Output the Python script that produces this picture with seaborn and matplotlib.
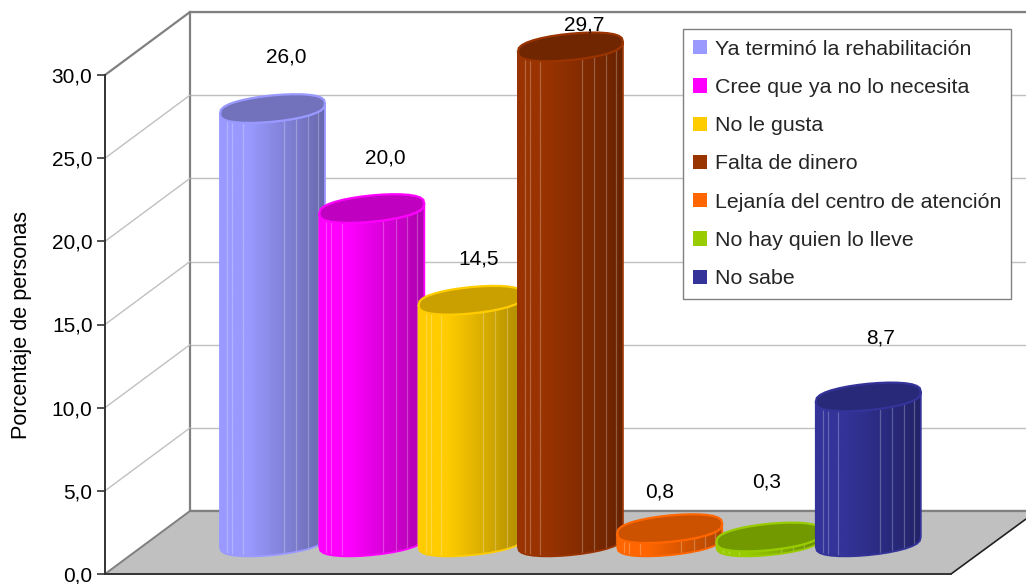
import numpy as np
import pandas as pd
import matplotlib.pyplot as plt
import seaborn as sns
from matplotlib.patches import Polygon, Patch
from matplotlib.ticker import FuncFormatter

# -----------------------------
# DATA
# -----------------------------
motivos = [
    "Ya terminó la rehabilitación",
    "Cree que ya no lo necesita",
    "No le gusta",
    "Falta de dinero",
    "Lejanía del centro de atención",
    "No hay quien lo lleve",
    "No sabe",
]
porcentajes = [26.0, 20.0, 14.5, 29.7, 0.8, 0.3, 8.7]
colores = ["#9999FF", "#FF00FF", "#FFCC00", "#993300", "#FF6600", "#99CC00", "#333399"]
colores_tapa = ["#7272BC", "#C000C0", "#C9A000", "#702600", "#CC5200", "#739900", "#29297A"]
ticks_y = [0, 5, 10, 15, 20, 25, 30]

# label offsets from the top of each bar, in pixels
label_dx = [14, 14, 8, 14, -10, -2, 12]
label_dy = [52, 51, 41, 22, 37, 55, 59]

# -----------------------------
# LAYOUT (pixels of the 1026x584 picture)
# -----------------------------
W, H = 1026, 584
FRONT_X, FRONT_Y0, FRONT_Y30 = 105, 574, 75
BACK_X, BACK_Y0, BACK_Y30 = 190, 511, 12
RIGHT_FRONT = 951
BAR_Y0 = 542
PX_Y = 16.67
BAR_X0, BAR_STEP = 272.5, 99.3


def box(x0, y_bottom, x1, y_top):
    return [x0 / W, 1 - y_bottom / H, (x1 - x0) / W, (y_bottom - y_top) / H]


sns.set_style("white")
plt.rcParams["font.family"] = ["Liberation Sans", "DejaVu Sans"]
FS = 15

fig = plt.figure(figsize=(W / 100, H / 100), dpi=100)

# -----------------------------
# BACK WALL
# -----------------------------
ax_wall = fig.add_axes(box(BACK_X, BACK_Y0, W, BACK_Y30), zorder=0)
ax_wall.set_xlim(0, 1)
ax_wall.set_ylim(0, 30)
ax_wall.set_yticks(ticks_y)
ax_wall.set_xticks([])
ax_wall.tick_params(left=False, labelleft=False)
ax_wall.grid(axis="y", color="#C0C0C0", lw=1)
ax_wall.spines["right"].set_visible(False)
for s in ["left", "top", "bottom"]:
    ax_wall.spines[s].set_color("#808080")
    ax_wall.spines[s].set_linewidth(1.6)

# -----------------------------
# FLOOR AND SIDE WALL
# -----------------------------
ax_px = fig.add_axes([0, 0, 1, 1], zorder=1)
ax_px.set_xlim(0, W)
ax_px.set_ylim(H, 0)
ax_px.axis("off")
ax_px.add_patch(Polygon(
    [(FRONT_X, FRONT_Y0), (BACK_X, BACK_Y0), (W, BACK_Y0), (W, 519), (RIGHT_FRONT, FRONT_Y0)],
    facecolor="#C0C0C0", edgecolor="none"))
ax_px.plot([RIGHT_FRONT, W], [FRONT_Y0, 519], color="#222222", lw=1.2)
ax_px.plot([BACK_X, W], [BACK_Y0, BACK_Y0], color="#808080", lw=1.6)
for t in ticks_y[1:]:
    y_front = FRONT_Y0 - t * (FRONT_Y0 - FRONT_Y30) / 30
    y_back = BACK_Y0 - t * (BACK_Y0 - BACK_Y30) / 30
    if t == 30:
        ax_px.plot([FRONT_X, BACK_X], [y_front, y_back], color="#808080", lw=1.6)
    else:
        ax_px.plot([FRONT_X, BACK_X], [y_front, y_back], color="#C0C0C0", lw=1)
ax_px.plot([FRONT_X, BACK_X], [FRONT_Y0, BACK_Y0], color="#808080", lw=1.4)

# -----------------------------
# FRONT AXIS
# -----------------------------
ax_front = fig.add_axes(box(FRONT_X, FRONT_Y0, RIGHT_FRONT, FRONT_Y30), zorder=2)
ax_front.patch.set_alpha(0)
ax_front.set_ylim(0, 30)
ax_front.set_xticks([])
ax_front.set_yticks(ticks_y)
ax_front.yaxis.set_major_formatter(FuncFormatter(lambda v, _: f"{v:.1f}".replace(".", ",")))
ax_front.tick_params(axis="y", left=True, length=6, width=1.2, color="#333333", pad=3,
                     labelsize=FS, labelcolor="black")
ax_front.spines["top"].set_visible(False)
ax_front.spines["right"].set_visible(False)
for s in ["left", "bottom"]:
    ax_front.spines[s].set_color("#333333")
    ax_front.spines[s].set_linewidth(1.4)
ax_front.set_ylabel("Porcentaje de personas", fontsize=15.6, color="black")
ax_front.yaxis.set_label_coords(-73 / (RIGHT_FRONT - FRONT_X), (FRONT_Y0 - 325) / (FRONT_Y0 - FRONT_Y30))

# -----------------------------
# BARS
# -----------------------------
df = pd.DataFrame({"motivo": motivos, "porcentaje": porcentajes})

ax = fig.add_axes([0, 0, 1, 1], zorder=3)
ax.patch.set_alpha(0)
sns.barplot(data=df, x="motivo", y="porcentaje", hue="motivo", palette=colores,
            hue_order=motivos, order=motivos, width=105 / BAR_STEP, dodge=False,
            saturation=1, legend=False, ax=ax)

xlim = (-BAR_X0 / BAR_STEP, (W - BAR_X0) / BAR_STEP)
ylim = (-(H - BAR_Y0) / PX_Y, BAR_Y0 / PX_Y)

semi_y = 13.2 / PX_Y
tilt = 5 / PX_Y
facetas = [-0.867, -0.77, -0.57, 0.22, 0.457, 0.676, 0.867]
barras = sorted(ax.patches, key=lambda b: b.get_x())

# faceted rim, fuller than a true ellipse
ang = np.linspace(np.pi, 0, 17)
u = np.cos(ang)
curva = semi_y * np.sin(ang) ** 0.75


def rim(f):
    return semi_y * np.sqrt(1 - abs(f) ** 2) ** 0.75


for i, barra in enumerate(barras):
    z = 10 + i
    x0 = barra.get_x()
    ancho = barra.get_width()
    cx = x0 + ancho / 2
    valor = barra.get_height()
    base = np.array(plt.matplotlib.colors.to_rgb(colores[i]))

    px = cx + u * ancho / 2
    abajo_0 = -curva + tilt * u
    abajo_v = valor - curva + tilt * u
    arriba_v = valor + curva + tilt * u

    # cylinder body: lower rim of the base up to the lower rim of the top
    cuerpo = np.vstack([np.column_stack([px, abajo_0]),
                        np.column_stack([px[::-1], abajo_v[::-1]])])
    poly = Polygon(cuerpo, closed=True, facecolor="none", edgecolor=colores[i], lw=1.3, zorder=z + 0.3)
    ax.add_patch(poly)
    barra.set_zorder(z)
    barra.set_clip_path(poly)

    # shading from left to right
    uu = np.linspace(-1, 1, 200)
    factor = np.interp(uu, [-1, -0.45, 1], [1, 1, 0.68])
    grad = (base[None, :] * factor[:, None])[None, :, :]
    img = ax.imshow(grad, extent=[x0, x0 + ancho, -2 * semi_y, valor + 2 * semi_y],
                    aspect="auto", origin="lower", zorder=z + 0.1, interpolation="bilinear")
    img.set_clip_path(poly)

    # facet lines
    for f in facetas:
        fy = rim(f)
        ax.plot([cx + f * ancho / 2] * 2, [-fy + tilt * f, valor - fy + tilt * f],
                color="white", alpha=0.25, lw=0.9, zorder=z + 0.2)

    # top of the cylinder
    tapa = np.vstack([np.column_stack([px, abajo_v]),
                      np.column_stack([px[::-1], arriba_v[::-1]])])
    ax.add_patch(Polygon(tapa, closed=True, facecolor=colores_tapa[i], edgecolor=colores[i],
                         lw=1.6, zorder=z + 0.4))

    etiqueta = f"{porcentajes[i]:.1f}".replace(".", ",")
    ax.annotate(etiqueta, (cx, valor), xytext=(label_dx[i], label_dy[i]), textcoords="offset pixels",
                ha="center", va="center", fontsize=FS, color="black", zorder=30)

ax.set_xlim(*xlim)
ax.set_ylim(*ylim)
ax.axis("off")

# -----------------------------
# LEGEND
# -----------------------------
handles = [Patch(facecolor=c, edgecolor="none", label=m) for c, m in zip(colores, motivos)]
leg = ax.legend(handles=handles, loc="upper left",
                bbox_to_anchor=(682.5 / W, 1 - 296 / H, (1011 - 682.5) / W, 267 / H),
                bbox_transform=fig.transFigure, mode="expand", borderaxespad=0,
                fontsize=15.4, frameon=True, fancybox=False, framealpha=1, edgecolor="#808080",
                handlelength=0.65, handleheight=0.65, handletextpad=0.35,
                labelspacing=0.9, borderpad=0.5)
leg.set_zorder(40)
leg.get_frame().set_linewidth(1)

plt.savefig("out.png", dpi=100)
